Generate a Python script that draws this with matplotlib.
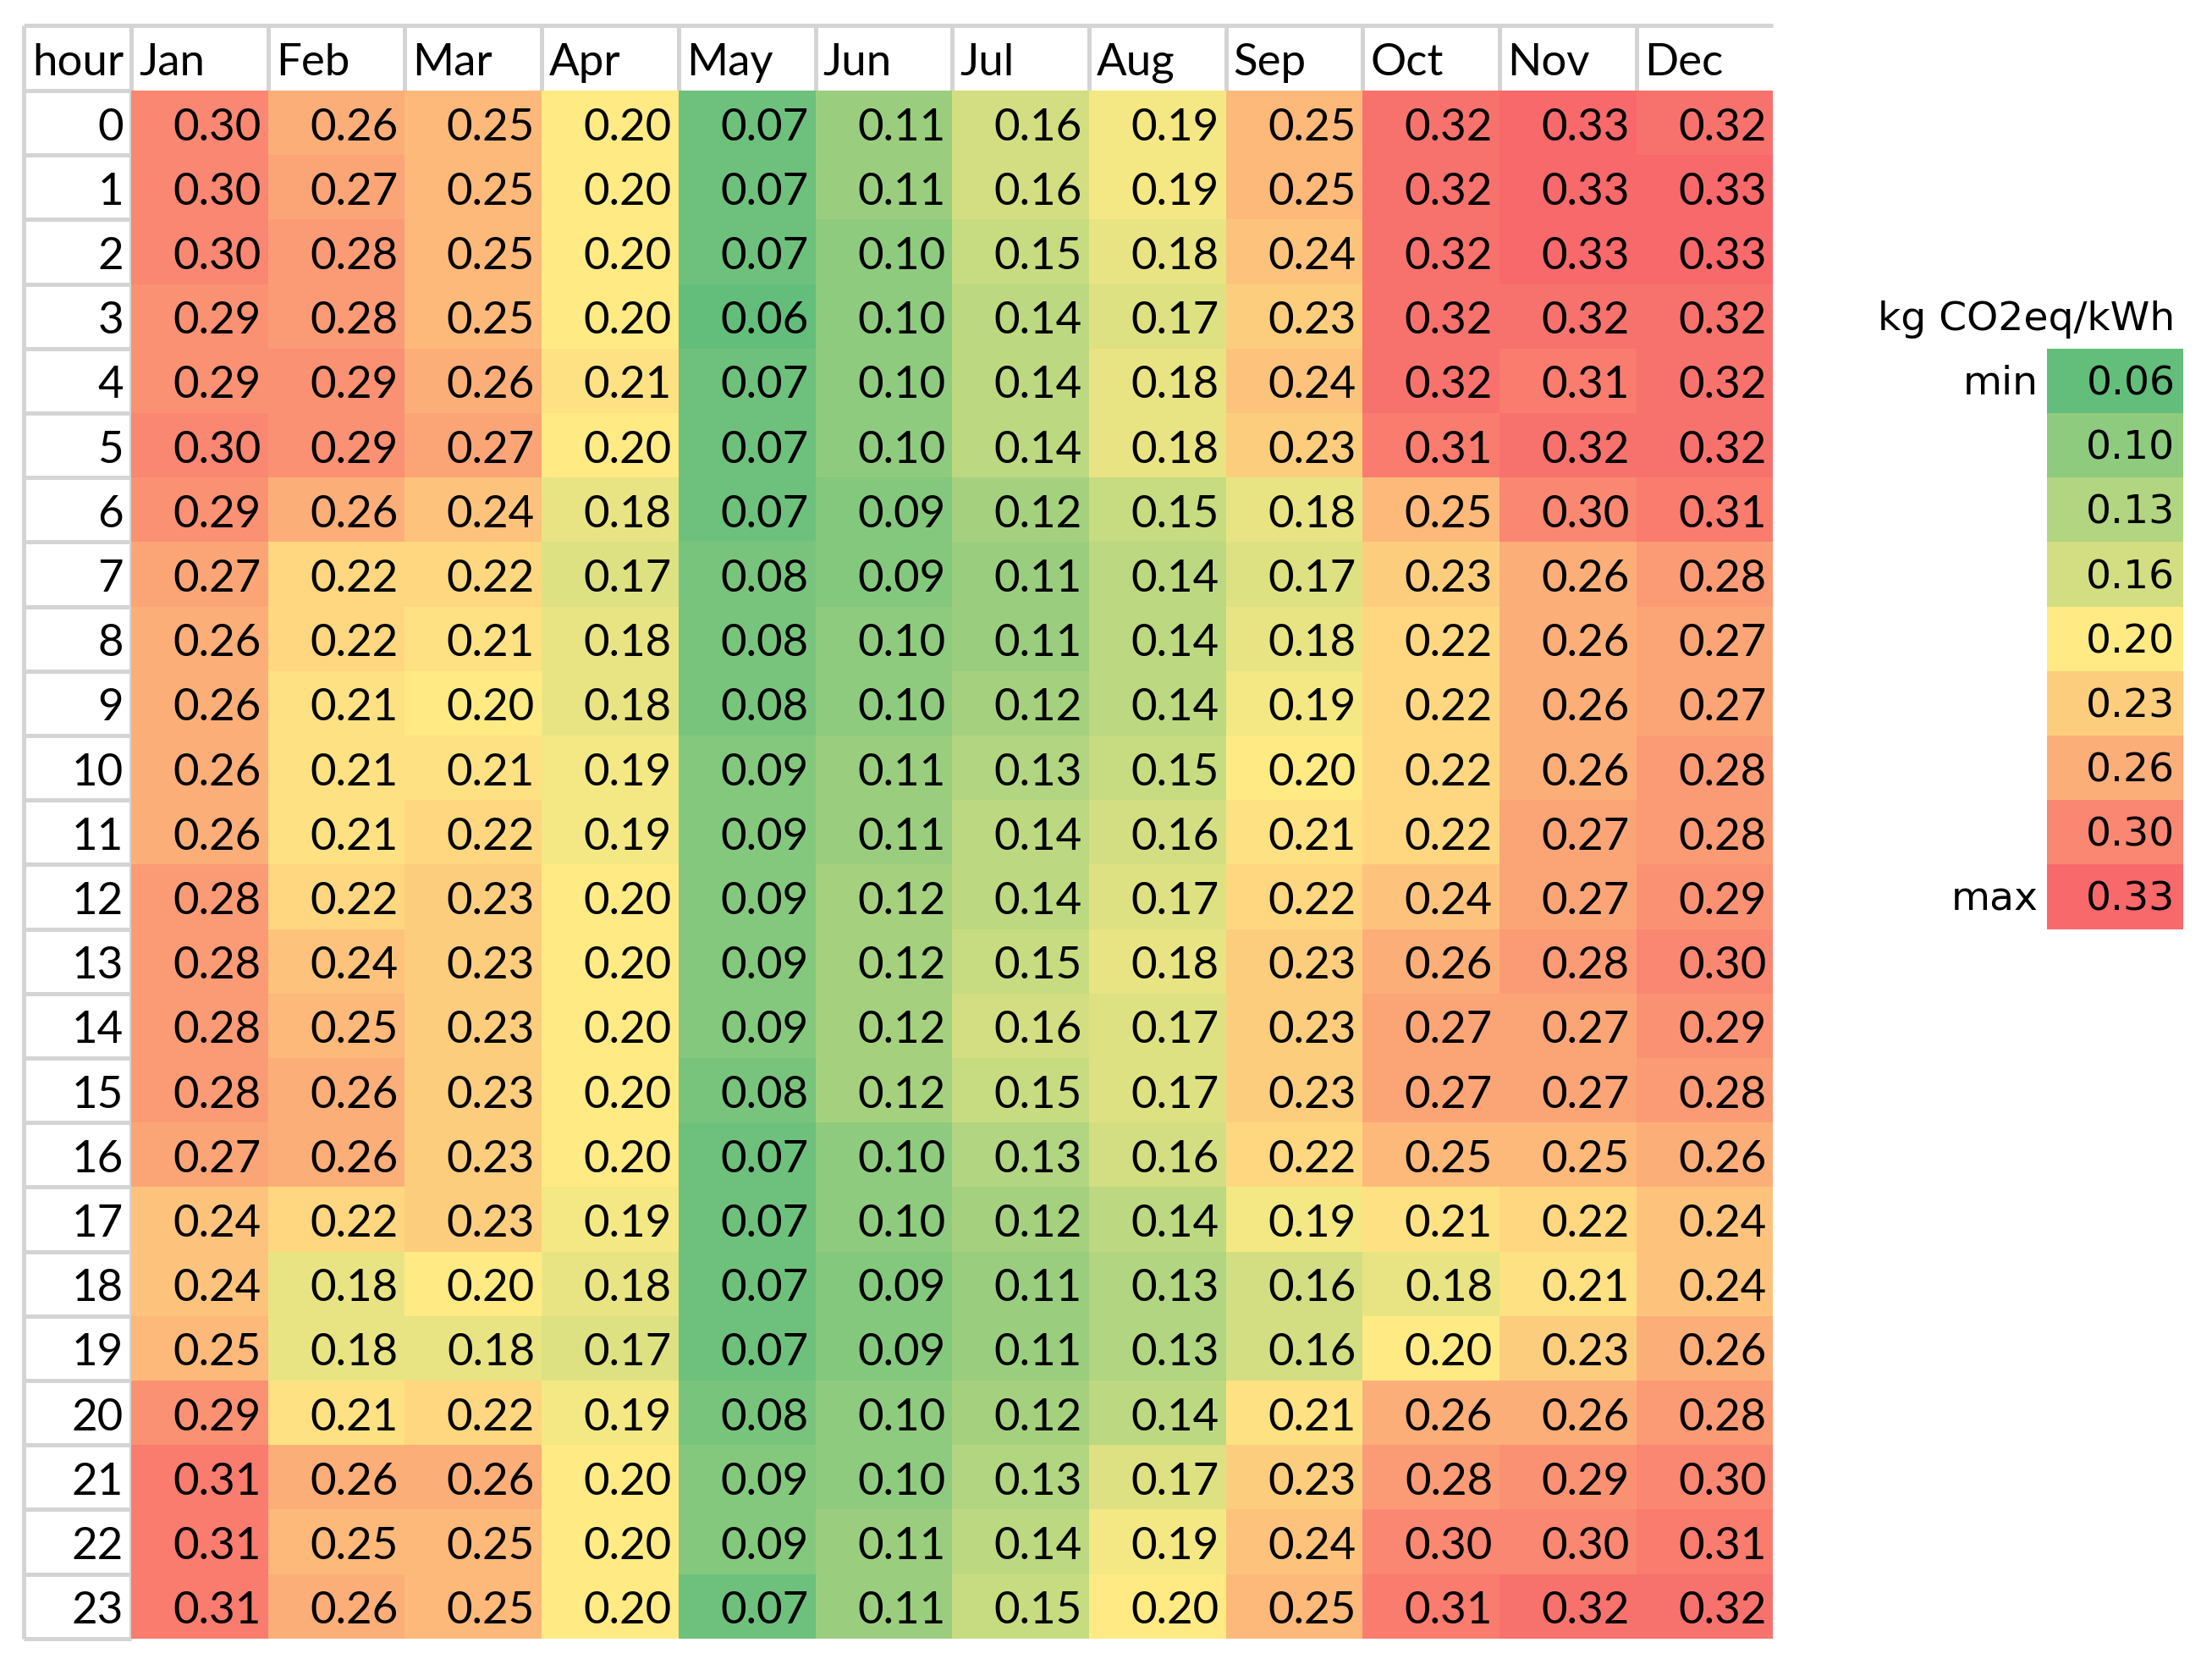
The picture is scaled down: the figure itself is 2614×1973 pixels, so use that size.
import numpy as np
import matplotlib
matplotlib.use("Agg")
import matplotlib.pyplot as plt
from matplotlib.colors import LinearSegmentedColormap, TwoSlopeNorm

months = ["Jan", "Feb", "Mar", "Apr", "May", "Jun",
          "Jul", "Aug", "Sep", "Oct", "Nov", "Dec"]
hours = list(range(24))

# kg CO2eq/kWh, one row per hour, one column per month
intensity = np.array([
    [0.30, 0.26, 0.25, 0.20, 0.07, 0.11, 0.16, 0.19, 0.25, 0.32, 0.33, 0.32],
    [0.30, 0.27, 0.25, 0.20, 0.07, 0.11, 0.16, 0.19, 0.25, 0.32, 0.33, 0.33],
    [0.30, 0.28, 0.25, 0.20, 0.07, 0.10, 0.15, 0.18, 0.24, 0.32, 0.33, 0.33],
    [0.29, 0.28, 0.25, 0.20, 0.06, 0.10, 0.14, 0.17, 0.23, 0.32, 0.32, 0.32],
    [0.29, 0.29, 0.26, 0.21, 0.07, 0.10, 0.14, 0.18, 0.24, 0.32, 0.31, 0.32],
    [0.30, 0.29, 0.27, 0.20, 0.07, 0.10, 0.14, 0.18, 0.23, 0.31, 0.32, 0.32],
    [0.29, 0.26, 0.24, 0.18, 0.07, 0.09, 0.12, 0.15, 0.18, 0.25, 0.30, 0.31],
    [0.27, 0.22, 0.22, 0.17, 0.08, 0.09, 0.11, 0.14, 0.17, 0.23, 0.26, 0.28],
    [0.26, 0.22, 0.21, 0.18, 0.08, 0.10, 0.11, 0.14, 0.18, 0.22, 0.26, 0.27],
    [0.26, 0.21, 0.20, 0.18, 0.08, 0.10, 0.12, 0.14, 0.19, 0.22, 0.26, 0.27],
    [0.26, 0.21, 0.21, 0.19, 0.09, 0.11, 0.13, 0.15, 0.20, 0.22, 0.26, 0.28],
    [0.26, 0.21, 0.22, 0.19, 0.09, 0.11, 0.14, 0.16, 0.21, 0.22, 0.27, 0.28],
    [0.28, 0.22, 0.23, 0.20, 0.09, 0.12, 0.14, 0.17, 0.22, 0.24, 0.27, 0.29],
    [0.28, 0.24, 0.23, 0.20, 0.09, 0.12, 0.15, 0.18, 0.23, 0.26, 0.28, 0.30],
    [0.28, 0.25, 0.23, 0.20, 0.09, 0.12, 0.16, 0.17, 0.23, 0.27, 0.27, 0.29],
    [0.28, 0.26, 0.23, 0.20, 0.08, 0.12, 0.15, 0.17, 0.23, 0.27, 0.27, 0.28],
    [0.27, 0.26, 0.23, 0.20, 0.07, 0.10, 0.13, 0.16, 0.22, 0.25, 0.25, 0.26],
    [0.24, 0.22, 0.23, 0.19, 0.07, 0.10, 0.12, 0.14, 0.19, 0.21, 0.22, 0.24],
    [0.24, 0.18, 0.20, 0.18, 0.07, 0.09, 0.11, 0.13, 0.16, 0.18, 0.21, 0.24],
    [0.25, 0.18, 0.18, 0.17, 0.07, 0.09, 0.11, 0.13, 0.16, 0.20, 0.23, 0.26],
    [0.29, 0.21, 0.22, 0.19, 0.08, 0.10, 0.12, 0.14, 0.21, 0.26, 0.26, 0.28],
    [0.31, 0.26, 0.26, 0.20, 0.09, 0.10, 0.13, 0.17, 0.23, 0.28, 0.29, 0.30],
    [0.31, 0.25, 0.25, 0.20, 0.09, 0.11, 0.14, 0.19, 0.24, 0.30, 0.30, 0.31],
    [0.31, 0.26, 0.25, 0.20, 0.07, 0.11, 0.15, 0.20, 0.25, 0.31, 0.32, 0.32],
])

legend_values = [0.06, 0.10, 0.13, 0.16, 0.20, 0.23, 0.26, 0.30, 0.33]
legend_labels = ["min", "", "", "", "", "", "", "", "max"]
legend_title = "kg CO2eq/kWh"

# layout in pixels (spreadsheet look)
W, H = 2614, 1973
left, top = 28, 30
hour_w, col_w = 127, 161.7
head_h, row_h = 77, 76.2
grid_c = "#d4d4d4"
grid_lw = 3.6
table_font = "Lato"
legend_font = "DejaVu Sans"

cmap = LinearSegmentedColormap.from_list("excel3", ["#63be7b", "#ffeb84", "#f8696b"])
norm = TwoSlopeNorm(vmin=intensity.min(), vcenter=legend_values[4], vmax=intensity.max())

fig = plt.figure(figsize=(W / 100, H / 100), dpi=100)
ax = fig.add_axes([0, 0, 1, 1])
ax.set_xlim(0, W)
ax.set_ylim(H, 0)
ax.axis("off")

x0 = left + hour_w
y0 = top + head_h
x_edges = x0 + col_w * np.arange(len(months) + 1)
y_edges = y0 + row_h * np.arange(len(hours) + 1)

# grid lines of the sheet
ax.plot([left, x_edges[-1]], [top, top], color=grid_c, lw=grid_lw, zorder=1, solid_capstyle="butt")
ax.plot([left, left], [top, y_edges[-1]], color=grid_c, lw=grid_lw, zorder=1, solid_capstyle="butt")
ax.plot([x0, x0], [top, y_edges[-1]], color=grid_c, lw=grid_lw, zorder=1, solid_capstyle="butt")
for xe in x_edges[1:-1]:
    ax.plot([xe, xe], [top, y0], color=grid_c, lw=grid_lw, zorder=1, solid_capstyle="butt")
for ye in y_edges:
    ax.plot([left, x0], [ye, ye], color=grid_c, lw=grid_lw, zorder=1, solid_capstyle="butt")

# colour-scaled cells
ax.pcolormesh(x_edges, y_edges, intensity, cmap=cmap, norm=norm, zorder=2)

fs = 38
ax.text(left + 10, top + head_h / 2 + 6, "hour", ha="left", va="center",
        fontsize=fs, family=table_font, zorder=3)
for j, m in enumerate(months):
    ax.text(x_edges[j] + 9, top + head_h / 2 + 6, m, ha="left", va="center",
            fontsize=fs, family=table_font, zorder=3)
for i, h in enumerate(hours):
    yc = y_edges[i] + row_h / 2 + 6
    ax.text(x0 - 9, yc, str(h), ha="right", va="center",
            fontsize=fs, family=table_font, zorder=3)
    for j in range(len(months)):
        ax.text(x_edges[j + 1] - 8, yc, f"{intensity[i, j]:.2f}", ha="right", va="center",
                fontsize=fs, family=table_font, zorder=3)

# legend block, two columns right of the table, rows 4..12
leg_x0 = x_edges[-1] + 2 * col_w
leg_row0 = 4
leg_y = y0 + row_h * (leg_row0 + np.arange(len(legend_values) + 1))
ax.pcolormesh([leg_x0, leg_x0 + col_w], leg_y, np.array(legend_values)[:, None],
              cmap=cmap, norm=norm, zorder=2)
lfs = 34
ax.text(leg_x0 + col_w - 10, leg_y[0] - row_h / 2 + 4, legend_title, ha="right", va="center",
        fontsize=lfs, family=legend_font, zorder=3)
for k, (v, lab) in enumerate(zip(legend_values, legend_labels)):
    yc = leg_y[k] + row_h / 2 + 4
    ax.text(leg_x0 + col_w - 10, yc, f"{v:.2f}", ha="right", va="center",
            fontsize=lfs, family=legend_font, zorder=3)
    if lab:
        ax.text(leg_x0 - 10, yc, lab, ha="right", va="center",
                fontsize=lfs, family=legend_font, zorder=3)

fig.savefig("out.png", dpi=100, facecolor="white")
